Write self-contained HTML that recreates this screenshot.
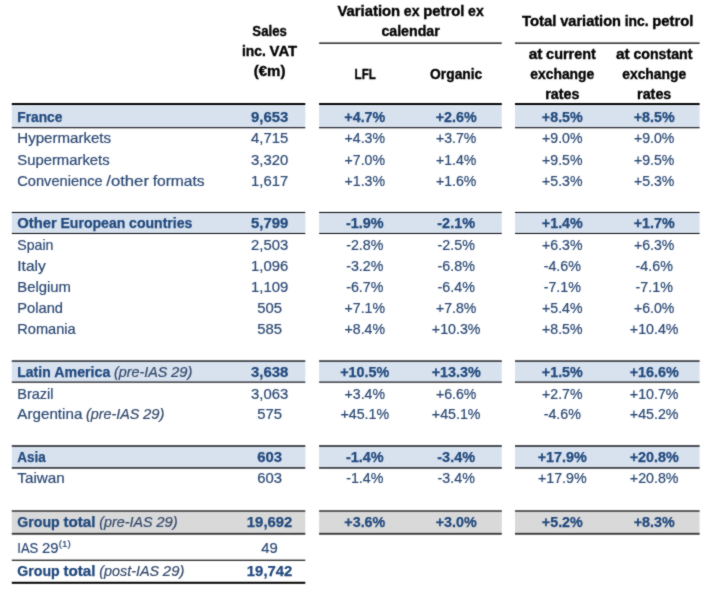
<!DOCTYPE html>
<html><head><meta charset="utf-8"><title>Sales table</title>
<style>
html,body{margin:0;padding:0;background:#fff;}
svg{display:block;font-family:"Liberation Sans",sans-serif;}
</style></head><body>
<svg width="714" height="589" viewBox="0 0 714 589">
<defs><filter id="soft" x="0" y="0" width="714" height="589" filterUnits="userSpaceOnUse" color-interpolation-filters="sRGB"><feConvolveMatrix order="3" kernelMatrix="1 2 1 2 16 2 1 2 1" divisor="28" edgeMode="duplicate" preserveAlpha="false"/></filter></defs>
<rect x="0" y="0" width="714" height="589" fill="#ffffff"/>
<g filter="url(#soft)">
<rect x="11.80" y="103.55" width="293.50" height="24.45" fill="#D8E2EF"/>
<rect x="11.80" y="103.05" width="293.50" height="1.95" fill="#000"/>
<rect x="11.80" y="127.15" width="293.50" height="1.10" fill="#0a0c10"/>
<rect x="319.10" y="103.55" width="182.70" height="24.45" fill="#D8E2EF"/>
<rect x="319.10" y="103.05" width="182.70" height="1.95" fill="#000"/>
<rect x="319.10" y="127.15" width="182.70" height="1.10" fill="#0a0c10"/>
<rect x="515.00" y="103.55" width="184.60" height="24.45" fill="#D8E2EF"/>
<rect x="515.00" y="103.05" width="184.60" height="1.95" fill="#000"/>
<rect x="515.00" y="127.15" width="184.60" height="1.10" fill="#0a0c10"/>
<rect x="11.80" y="212.15" width="293.50" height="21.62" fill="#D8E2EF"/>
<rect x="11.80" y="211.95" width="293.50" height="1.05" fill="#0a0c10"/>
<rect x="11.80" y="232.96" width="293.50" height="1.01" fill="#0a0c10"/>
<rect x="319.10" y="212.15" width="182.70" height="21.62" fill="#D8E2EF"/>
<rect x="319.10" y="211.95" width="182.70" height="1.05" fill="#0a0c10"/>
<rect x="319.10" y="232.96" width="182.70" height="1.01" fill="#0a0c10"/>
<rect x="515.00" y="212.15" width="184.60" height="21.62" fill="#D8E2EF"/>
<rect x="515.00" y="211.95" width="184.60" height="1.05" fill="#0a0c10"/>
<rect x="515.00" y="232.96" width="184.60" height="1.01" fill="#0a0c10"/>
<rect x="11.80" y="360.60" width="293.50" height="21.90" fill="#D8E2EF"/>
<rect x="11.80" y="360.40" width="293.50" height="1.30" fill="#0a0c10"/>
<rect x="11.80" y="381.56" width="293.50" height="1.14" fill="#0a0c10"/>
<rect x="319.10" y="360.60" width="182.70" height="21.90" fill="#D8E2EF"/>
<rect x="319.10" y="360.40" width="182.70" height="1.30" fill="#0a0c10"/>
<rect x="319.10" y="381.56" width="182.70" height="1.14" fill="#0a0c10"/>
<rect x="515.00" y="360.60" width="184.60" height="21.90" fill="#D8E2EF"/>
<rect x="515.00" y="360.40" width="184.60" height="1.30" fill="#0a0c10"/>
<rect x="515.00" y="381.56" width="184.60" height="1.14" fill="#0a0c10"/>
<rect x="11.80" y="445.50" width="293.50" height="22.90" fill="#D8E2EF"/>
<rect x="11.80" y="445.30" width="293.50" height="1.40" fill="#0a0c10"/>
<rect x="11.80" y="467.26" width="293.50" height="1.34" fill="#0a0c10"/>
<rect x="319.10" y="445.50" width="182.70" height="22.90" fill="#D8E2EF"/>
<rect x="319.10" y="445.30" width="182.70" height="1.40" fill="#0a0c10"/>
<rect x="319.10" y="467.26" width="182.70" height="1.34" fill="#0a0c10"/>
<rect x="515.00" y="445.50" width="184.60" height="22.90" fill="#D8E2EF"/>
<rect x="515.00" y="445.30" width="184.60" height="1.40" fill="#0a0c10"/>
<rect x="515.00" y="467.26" width="184.60" height="1.34" fill="#0a0c10"/>
<rect x="11.80" y="510.65" width="293.50" height="23.65" fill="#D9D9D9"/>
<rect x="11.80" y="510.25" width="293.50" height="1.55" fill="#3a3a3a"/>
<rect x="11.80" y="532.90" width="293.50" height="1.80" fill="#333"/>
<rect x="319.10" y="510.65" width="182.70" height="23.65" fill="#D9D9D9"/>
<rect x="319.10" y="510.25" width="182.70" height="1.55" fill="#3a3a3a"/>
<rect x="319.10" y="532.90" width="182.70" height="1.80" fill="#333"/>
<rect x="515.00" y="510.65" width="184.60" height="23.65" fill="#D9D9D9"/>
<rect x="515.00" y="510.25" width="184.60" height="1.55" fill="#3a3a3a"/>
<rect x="515.00" y="532.90" width="184.60" height="1.80" fill="#333"/>
<rect x="11.80" y="559.60" width="293.50" height="1.40" fill="#333"/>
<rect x="11.80" y="581.80" width="293.50" height="2.00" fill="#000"/>
<rect x="319.10" y="42.45" width="182.70" height="1.40" fill="#1a1a1a"/>
<rect x="515.00" y="42.45" width="184.60" height="1.40" fill="#1a1a1a"/>
<text x="17.30" y="121.70" textLength="45.09" lengthAdjust="spacingAndGlyphs" font-size="14.4" fill="#1F477B" font-weight="700" stroke="#1F477B" stroke-width="0.25">France</text>
<text x="250.97" y="121.70" textLength="37.26" lengthAdjust="spacingAndGlyphs" font-size="14.4" fill="#1F477B" font-weight="700" stroke="#1F477B" stroke-width="0.25">9,653</text>
<text x="344.36" y="121.70" textLength="40.88" lengthAdjust="spacingAndGlyphs" font-size="14.4" fill="#1F477B" font-weight="700" stroke="#1F477B" stroke-width="0.25">+4.7%</text>
<text x="435.76" y="121.70" textLength="40.88" lengthAdjust="spacingAndGlyphs" font-size="14.4" fill="#1F477B" font-weight="700" stroke="#1F477B" stroke-width="0.25">+2.6%</text>
<text x="541.86" y="121.70" textLength="40.88" lengthAdjust="spacingAndGlyphs" font-size="14.4" fill="#1F477B" font-weight="700" stroke="#1F477B" stroke-width="0.25">+8.5%</text>
<text x="633.76" y="121.70" textLength="40.88" lengthAdjust="spacingAndGlyphs" font-size="14.4" fill="#1F477B" font-weight="700" stroke="#1F477B" stroke-width="0.25">+8.5%</text>
<text x="17.30" y="143.10" textLength="93.79" lengthAdjust="spacingAndGlyphs" font-size="14.4" fill="#2A4873" stroke="#2A4873" stroke-width="0.2">Hypermarkets</text>
<text x="251.03" y="143.10" textLength="37.13" lengthAdjust="spacingAndGlyphs" font-size="13.9" fill="#2A4873" stroke="#2A4873" stroke-width="0.2">4,715</text>
<text x="344.60" y="143.10" textLength="40.41" lengthAdjust="spacingAndGlyphs" font-size="13.9" fill="#2A4873" stroke="#2A4873" stroke-width="0.2">+4.3%</text>
<text x="436.00" y="143.10" textLength="40.41" lengthAdjust="spacingAndGlyphs" font-size="13.9" fill="#2A4873" stroke="#2A4873" stroke-width="0.2">+3.7%</text>
<text x="542.10" y="143.10" textLength="40.41" lengthAdjust="spacingAndGlyphs" font-size="13.9" fill="#2A4873" stroke="#2A4873" stroke-width="0.2">+9.0%</text>
<text x="634.00" y="143.10" textLength="40.41" lengthAdjust="spacingAndGlyphs" font-size="13.9" fill="#2A4873" stroke="#2A4873" stroke-width="0.2">+9.0%</text>
<text x="17.30" y="164.70" textLength="92.29" lengthAdjust="spacingAndGlyphs" font-size="14.4" fill="#2A4873" stroke="#2A4873" stroke-width="0.2">Supermarkets</text>
<text x="251.03" y="164.70" textLength="37.13" lengthAdjust="spacingAndGlyphs" font-size="13.9" fill="#2A4873" stroke="#2A4873" stroke-width="0.2">3,320</text>
<text x="344.60" y="164.70" textLength="40.41" lengthAdjust="spacingAndGlyphs" font-size="13.9" fill="#2A4873" stroke="#2A4873" stroke-width="0.2">+7.0%</text>
<text x="436.00" y="164.70" textLength="40.41" lengthAdjust="spacingAndGlyphs" font-size="13.9" fill="#2A4873" stroke="#2A4873" stroke-width="0.2">+1.4%</text>
<text x="542.10" y="164.70" textLength="40.41" lengthAdjust="spacingAndGlyphs" font-size="13.9" fill="#2A4873" stroke="#2A4873" stroke-width="0.2">+9.5%</text>
<text x="634.00" y="164.70" textLength="40.41" lengthAdjust="spacingAndGlyphs" font-size="13.9" fill="#2A4873" stroke="#2A4873" stroke-width="0.2">+9.5%</text>
<text y="185.70" font-size="14.4" fill="#2A4873" stroke="#2A4873" stroke-width="0.2"><tspan x="17.30" textLength="85.30" lengthAdjust="spacingAndGlyphs">Convenience</tspan> <tspan x="106.28" textLength="42.71" lengthAdjust="spacingAndGlyphs">/other</tspan> <tspan x="152.67" textLength="51.92" lengthAdjust="spacingAndGlyphs">formats</tspan></text>
<text x="251.03" y="185.70" textLength="37.13" lengthAdjust="spacingAndGlyphs" font-size="13.9" fill="#2A4873" stroke="#2A4873" stroke-width="0.2">1,617</text>
<text x="344.60" y="185.70" textLength="40.41" lengthAdjust="spacingAndGlyphs" font-size="13.9" fill="#2A4873" stroke="#2A4873" stroke-width="0.2">+1.3%</text>
<text x="436.00" y="185.70" textLength="40.41" lengthAdjust="spacingAndGlyphs" font-size="13.9" fill="#2A4873" stroke="#2A4873" stroke-width="0.2">+1.6%</text>
<text x="542.10" y="185.70" textLength="40.41" lengthAdjust="spacingAndGlyphs" font-size="13.9" fill="#2A4873" stroke="#2A4873" stroke-width="0.2">+5.3%</text>
<text x="634.00" y="185.70" textLength="40.41" lengthAdjust="spacingAndGlyphs" font-size="13.9" fill="#2A4873" stroke="#2A4873" stroke-width="0.2">+5.3%</text>
<text y="228.30" font-size="14.4" fill="#1F477B" font-weight="700" stroke="#1F477B" stroke-width="0.25"><tspan x="17.30" textLength="39.41" lengthAdjust="spacingAndGlyphs">Other</tspan> <tspan x="60.40" textLength="65.02" lengthAdjust="spacingAndGlyphs">European</tspan> <tspan x="129.10" textLength="63.24" lengthAdjust="spacingAndGlyphs">countries</tspan></text>
<text x="250.97" y="228.30" textLength="37.26" lengthAdjust="spacingAndGlyphs" font-size="14.4" fill="#1F477B" font-weight="700" stroke="#1F477B" stroke-width="0.25">5,799</text>
<text x="345.92" y="228.30" textLength="37.75" lengthAdjust="spacingAndGlyphs" font-size="14.4" fill="#1F477B" font-weight="700" stroke="#1F477B" stroke-width="0.25">-1.9%</text>
<text x="437.32" y="228.30" textLength="37.75" lengthAdjust="spacingAndGlyphs" font-size="14.4" fill="#1F477B" font-weight="700" stroke="#1F477B" stroke-width="0.25">-2.1%</text>
<text x="541.86" y="228.30" textLength="40.88" lengthAdjust="spacingAndGlyphs" font-size="14.4" fill="#1F477B" font-weight="700" stroke="#1F477B" stroke-width="0.25">+1.4%</text>
<text x="633.76" y="228.30" textLength="40.88" lengthAdjust="spacingAndGlyphs" font-size="14.4" fill="#1F477B" font-weight="700" stroke="#1F477B" stroke-width="0.25">+1.7%</text>
<text x="17.30" y="250.10" textLength="36.14" lengthAdjust="spacingAndGlyphs" font-size="14.4" fill="#2A4873" stroke="#2A4873" stroke-width="0.2">Spain</text>
<text x="251.03" y="250.10" textLength="37.13" lengthAdjust="spacingAndGlyphs" font-size="13.9" fill="#2A4873" stroke="#2A4873" stroke-width="0.2">2,503</text>
<text x="346.16" y="250.10" textLength="37.28" lengthAdjust="spacingAndGlyphs" font-size="13.9" fill="#2A4873" stroke="#2A4873" stroke-width="0.2">-2.8%</text>
<text x="437.56" y="250.10" textLength="37.28" lengthAdjust="spacingAndGlyphs" font-size="13.9" fill="#2A4873" stroke="#2A4873" stroke-width="0.2">-2.5%</text>
<text x="542.10" y="250.10" textLength="40.41" lengthAdjust="spacingAndGlyphs" font-size="13.9" fill="#2A4873" stroke="#2A4873" stroke-width="0.2">+6.3%</text>
<text x="634.00" y="250.10" textLength="40.41" lengthAdjust="spacingAndGlyphs" font-size="13.9" fill="#2A4873" stroke="#2A4873" stroke-width="0.2">+6.3%</text>
<text x="17.30" y="271.20" textLength="28.49" lengthAdjust="spacingAndGlyphs" font-size="14.4" fill="#2A4873" stroke="#2A4873" stroke-width="0.2">Italy</text>
<text x="251.03" y="271.20" textLength="37.13" lengthAdjust="spacingAndGlyphs" font-size="13.9" fill="#2A4873" stroke="#2A4873" stroke-width="0.2">1,096</text>
<text x="346.16" y="271.20" textLength="37.28" lengthAdjust="spacingAndGlyphs" font-size="13.9" fill="#2A4873" stroke="#2A4873" stroke-width="0.2">-3.2%</text>
<text x="437.56" y="271.20" textLength="37.28" lengthAdjust="spacingAndGlyphs" font-size="13.9" fill="#2A4873" stroke="#2A4873" stroke-width="0.2">-6.8%</text>
<text x="543.66" y="271.20" textLength="37.28" lengthAdjust="spacingAndGlyphs" font-size="13.9" fill="#2A4873" stroke="#2A4873" stroke-width="0.2">-4.6%</text>
<text x="635.56" y="271.20" textLength="37.28" lengthAdjust="spacingAndGlyphs" font-size="13.9" fill="#2A4873" stroke="#2A4873" stroke-width="0.2">-4.6%</text>
<text x="17.30" y="291.90" textLength="53.71" lengthAdjust="spacingAndGlyphs" font-size="14.4" fill="#2A4873" stroke="#2A4873" stroke-width="0.2">Belgium</text>
<text x="251.03" y="291.90" textLength="37.13" lengthAdjust="spacingAndGlyphs" font-size="13.9" fill="#2A4873" stroke="#2A4873" stroke-width="0.2">1,109</text>
<text x="346.16" y="291.90" textLength="37.28" lengthAdjust="spacingAndGlyphs" font-size="13.9" fill="#2A4873" stroke="#2A4873" stroke-width="0.2">-6.7%</text>
<text x="437.56" y="291.90" textLength="37.28" lengthAdjust="spacingAndGlyphs" font-size="13.9" fill="#2A4873" stroke="#2A4873" stroke-width="0.2">-6.4%</text>
<text x="543.66" y="291.90" textLength="37.28" lengthAdjust="spacingAndGlyphs" font-size="13.9" fill="#2A4873" stroke="#2A4873" stroke-width="0.2">-7.1%</text>
<text x="635.56" y="291.90" textLength="37.28" lengthAdjust="spacingAndGlyphs" font-size="13.9" fill="#2A4873" stroke="#2A4873" stroke-width="0.2">-7.1%</text>
<text x="17.30" y="312.90" textLength="45.67" lengthAdjust="spacingAndGlyphs" font-size="14.4" fill="#2A4873" stroke="#2A4873" stroke-width="0.2">Poland</text>
<text x="257.20" y="312.90" textLength="24.79" lengthAdjust="spacingAndGlyphs" font-size="13.9" fill="#2A4873" stroke="#2A4873" stroke-width="0.2">505</text>
<text x="344.60" y="312.90" textLength="40.41" lengthAdjust="spacingAndGlyphs" font-size="13.9" fill="#2A4873" stroke="#2A4873" stroke-width="0.2">+7.1%</text>
<text x="436.00" y="312.90" textLength="40.41" lengthAdjust="spacingAndGlyphs" font-size="13.9" fill="#2A4873" stroke="#2A4873" stroke-width="0.2">+7.8%</text>
<text x="542.10" y="312.90" textLength="40.41" lengthAdjust="spacingAndGlyphs" font-size="13.9" fill="#2A4873" stroke="#2A4873" stroke-width="0.2">+5.4%</text>
<text x="634.00" y="312.90" textLength="40.41" lengthAdjust="spacingAndGlyphs" font-size="13.9" fill="#2A4873" stroke="#2A4873" stroke-width="0.2">+6.0%</text>
<text x="17.30" y="334.10" textLength="58.37" lengthAdjust="spacingAndGlyphs" font-size="14.4" fill="#2A4873" stroke="#2A4873" stroke-width="0.2">Romania</text>
<text x="257.20" y="334.10" textLength="24.79" lengthAdjust="spacingAndGlyphs" font-size="13.9" fill="#2A4873" stroke="#2A4873" stroke-width="0.2">585</text>
<text x="344.60" y="334.10" textLength="40.41" lengthAdjust="spacingAndGlyphs" font-size="13.9" fill="#2A4873" stroke="#2A4873" stroke-width="0.2">+8.4%</text>
<text x="431.86" y="334.10" textLength="48.67" lengthAdjust="spacingAndGlyphs" font-size="13.9" fill="#2A4873" stroke="#2A4873" stroke-width="0.2">+10.3%</text>
<text x="542.10" y="334.10" textLength="40.41" lengthAdjust="spacingAndGlyphs" font-size="13.9" fill="#2A4873" stroke="#2A4873" stroke-width="0.2">+8.5%</text>
<text x="629.86" y="334.10" textLength="48.67" lengthAdjust="spacingAndGlyphs" font-size="13.9" fill="#2A4873" stroke="#2A4873" stroke-width="0.2">+10.4%</text>
<text y="376.60" font-size="14.4" fill="#1F477B" font-weight="700" stroke="#1F477B" stroke-width="0.25"><tspan x="17.30" textLength="33.37" lengthAdjust="spacingAndGlyphs">Latin</tspan> <tspan x="54.35" textLength="55.99" lengthAdjust="spacingAndGlyphs">America</tspan></text>
<text y="376.60" font-size="14.4" fill="#34496B" font-style="italic" stroke="#34496B" stroke-width="0.2"><tspan x="114.02" textLength="53.32" lengthAdjust="spacingAndGlyphs">(pre-IAS</tspan> <tspan x="171.03" textLength="21.47" lengthAdjust="spacingAndGlyphs">29)</tspan></text>
<text x="250.97" y="376.60" textLength="37.26" lengthAdjust="spacingAndGlyphs" font-size="14.4" fill="#1F477B" font-weight="700" stroke="#1F477B" stroke-width="0.25">3,638</text>
<text x="340.23" y="376.60" textLength="49.14" lengthAdjust="spacingAndGlyphs" font-size="14.4" fill="#1F477B" font-weight="700" stroke="#1F477B" stroke-width="0.25">+10.5%</text>
<text x="431.63" y="376.60" textLength="49.14" lengthAdjust="spacingAndGlyphs" font-size="14.4" fill="#1F477B" font-weight="700" stroke="#1F477B" stroke-width="0.25">+13.3%</text>
<text x="541.86" y="376.60" textLength="40.88" lengthAdjust="spacingAndGlyphs" font-size="14.4" fill="#1F477B" font-weight="700" stroke="#1F477B" stroke-width="0.25">+1.5%</text>
<text x="629.63" y="376.60" textLength="49.14" lengthAdjust="spacingAndGlyphs" font-size="14.4" fill="#1F477B" font-weight="700" stroke="#1F477B" stroke-width="0.25">+16.6%</text>
<text x="17.30" y="398.50" textLength="36.27" lengthAdjust="spacingAndGlyphs" font-size="14.4" fill="#2A4873" stroke="#2A4873" stroke-width="0.2">Brazil</text>
<text x="251.03" y="398.50" textLength="37.13" lengthAdjust="spacingAndGlyphs" font-size="13.9" fill="#2A4873" stroke="#2A4873" stroke-width="0.2">3,063</text>
<text x="344.60" y="398.50" textLength="40.41" lengthAdjust="spacingAndGlyphs" font-size="13.9" fill="#2A4873" stroke="#2A4873" stroke-width="0.2">+3.4%</text>
<text x="436.00" y="398.50" textLength="40.41" lengthAdjust="spacingAndGlyphs" font-size="13.9" fill="#2A4873" stroke="#2A4873" stroke-width="0.2">+6.6%</text>
<text x="542.10" y="398.50" textLength="40.41" lengthAdjust="spacingAndGlyphs" font-size="13.9" fill="#2A4873" stroke="#2A4873" stroke-width="0.2">+2.7%</text>
<text x="629.86" y="398.50" textLength="48.67" lengthAdjust="spacingAndGlyphs" font-size="13.9" fill="#2A4873" stroke="#2A4873" stroke-width="0.2">+10.7%</text>
<text x="17.30" y="419.40" textLength="65.04" lengthAdjust="spacingAndGlyphs" font-size="14.4" fill="#2A4873" stroke="#2A4873" stroke-width="0.2">Argentina</text>
<text y="419.40" font-size="14.4" fill="#34496B" font-style="italic" stroke="#34496B" stroke-width="0.2"><tspan x="86.02" textLength="53.32" lengthAdjust="spacingAndGlyphs">(pre-IAS</tspan> <tspan x="143.02" textLength="21.47" lengthAdjust="spacingAndGlyphs">29)</tspan></text>
<text x="257.20" y="419.40" textLength="24.79" lengthAdjust="spacingAndGlyphs" font-size="13.9" fill="#2A4873" stroke="#2A4873" stroke-width="0.2">575</text>
<text x="340.46" y="419.40" textLength="48.67" lengthAdjust="spacingAndGlyphs" font-size="13.9" fill="#2A4873" stroke="#2A4873" stroke-width="0.2">+45.1%</text>
<text x="431.86" y="419.40" textLength="48.67" lengthAdjust="spacingAndGlyphs" font-size="13.9" fill="#2A4873" stroke="#2A4873" stroke-width="0.2">+45.1%</text>
<text x="543.66" y="419.40" textLength="37.28" lengthAdjust="spacingAndGlyphs" font-size="13.9" fill="#2A4873" stroke="#2A4873" stroke-width="0.2">-4.6%</text>
<text x="629.86" y="419.40" textLength="48.67" lengthAdjust="spacingAndGlyphs" font-size="13.9" fill="#2A4873" stroke="#2A4873" stroke-width="0.2">+45.2%</text>
<text x="17.30" y="461.90" textLength="28.44" lengthAdjust="spacingAndGlyphs" font-size="14.4" fill="#1F477B" font-weight="700" stroke="#1F477B" stroke-width="0.25">Asia</text>
<text x="257.20" y="461.90" textLength="24.79" lengthAdjust="spacingAndGlyphs" font-size="14.4" fill="#1F477B" font-weight="700" stroke="#1F477B" stroke-width="0.25">603</text>
<text x="345.92" y="461.90" textLength="37.75" lengthAdjust="spacingAndGlyphs" font-size="14.4" fill="#1F477B" font-weight="700" stroke="#1F477B" stroke-width="0.25">-1.4%</text>
<text x="437.32" y="461.90" textLength="37.75" lengthAdjust="spacingAndGlyphs" font-size="14.4" fill="#1F477B" font-weight="700" stroke="#1F477B" stroke-width="0.25">-3.4%</text>
<text x="537.73" y="461.90" textLength="49.14" lengthAdjust="spacingAndGlyphs" font-size="14.4" fill="#1F477B" font-weight="700" stroke="#1F477B" stroke-width="0.25">+17.9%</text>
<text x="629.63" y="461.90" textLength="49.14" lengthAdjust="spacingAndGlyphs" font-size="14.4" fill="#1F477B" font-weight="700" stroke="#1F477B" stroke-width="0.25">+20.8%</text>
<text x="17.30" y="483.40" textLength="47.50" lengthAdjust="spacingAndGlyphs" font-size="14.4" fill="#2A4873" stroke="#2A4873" stroke-width="0.2">Taiwan</text>
<text x="257.20" y="483.40" textLength="24.79" lengthAdjust="spacingAndGlyphs" font-size="13.9" fill="#2A4873" stroke="#2A4873" stroke-width="0.2">603</text>
<text x="346.16" y="483.40" textLength="37.28" lengthAdjust="spacingAndGlyphs" font-size="13.9" fill="#2A4873" stroke="#2A4873" stroke-width="0.2">-1.4%</text>
<text x="437.56" y="483.40" textLength="37.28" lengthAdjust="spacingAndGlyphs" font-size="13.9" fill="#2A4873" stroke="#2A4873" stroke-width="0.2">-3.4%</text>
<text x="537.96" y="483.40" textLength="48.67" lengthAdjust="spacingAndGlyphs" font-size="13.9" fill="#2A4873" stroke="#2A4873" stroke-width="0.2">+17.9%</text>
<text x="629.86" y="483.40" textLength="48.67" lengthAdjust="spacingAndGlyphs" font-size="13.9" fill="#2A4873" stroke="#2A4873" stroke-width="0.2">+20.8%</text>
<text y="527.40" font-size="14.4" fill="#1F477B" font-weight="700" stroke="#1F477B" stroke-width="0.25"><tspan x="17.30" textLength="42.45" lengthAdjust="spacingAndGlyphs">Group</tspan> <tspan x="63.43" textLength="32.14" lengthAdjust="spacingAndGlyphs">total</tspan></text>
<text y="527.40" font-size="14.4" fill="#34496B" font-style="italic" stroke="#34496B" stroke-width="0.2"><tspan x="99.26" textLength="53.32" lengthAdjust="spacingAndGlyphs">(pre-IAS</tspan> <tspan x="156.26" textLength="21.47" lengthAdjust="spacingAndGlyphs">29)</tspan></text>
<text x="246.84" y="527.40" textLength="45.53" lengthAdjust="spacingAndGlyphs" font-size="14.4" fill="#1F477B" font-weight="700" stroke="#1F477B" stroke-width="0.25">19,692</text>
<text x="344.36" y="527.40" textLength="40.88" lengthAdjust="spacingAndGlyphs" font-size="14.4" fill="#1F477B" font-weight="700" stroke="#1F477B" stroke-width="0.25">+3.6%</text>
<text x="435.76" y="527.40" textLength="40.88" lengthAdjust="spacingAndGlyphs" font-size="14.4" fill="#1F477B" font-weight="700" stroke="#1F477B" stroke-width="0.25">+3.0%</text>
<text x="541.86" y="527.40" textLength="40.88" lengthAdjust="spacingAndGlyphs" font-size="14.4" fill="#1F477B" font-weight="700" stroke="#1F477B" stroke-width="0.25">+5.2%</text>
<text x="633.76" y="527.40" textLength="40.88" lengthAdjust="spacingAndGlyphs" font-size="14.4" fill="#1F477B" font-weight="700" stroke="#1F477B" stroke-width="0.25">+8.3%</text>
<text y="552.90" font-size="14.4" fill="#2A4873" stroke="#2A4873" stroke-width="0.2"><tspan x="17.30" textLength="21.03" lengthAdjust="spacingAndGlyphs">IAS</tspan> <tspan x="42.01" textLength="16.53" lengthAdjust="spacingAndGlyphs">29</tspan></text>
<text x="58.84" y="547.00" textLength="12.00" lengthAdjust="spacingAndGlyphs" font-size="9.0" fill="#2A4873" stroke="#2A4873" stroke-width="0.2">(1)</text>
<text x="261.34" y="552.60" textLength="16.53" lengthAdjust="spacingAndGlyphs" font-size="13.9" fill="#2A4873" stroke="#2A4873" stroke-width="0.2">49</text>
<text y="575.90" font-size="14.4" fill="#1F477B" font-weight="700" stroke="#1F477B" stroke-width="0.25"><tspan x="17.30" textLength="42.45" lengthAdjust="spacingAndGlyphs">Group</tspan> <tspan x="63.43" textLength="32.14" lengthAdjust="spacingAndGlyphs">total</tspan></text>
<text y="575.90" font-size="14.4" fill="#34496B" font-style="italic" stroke="#34496B" stroke-width="0.2"><tspan x="99.26" textLength="59.94" lengthAdjust="spacingAndGlyphs">(post-IAS</tspan> <tspan x="162.88" textLength="21.47" lengthAdjust="spacingAndGlyphs">29)</tspan></text>
<text x="246.84" y="575.90" textLength="45.53" lengthAdjust="spacingAndGlyphs" font-size="14.4" fill="#1F477B" font-weight="700" stroke="#1F477B" stroke-width="0.25">19,742</text>
<text x="252.36" y="35.80" textLength="34.47" lengthAdjust="spacingAndGlyphs" font-size="14.4" fill="#000000" font-weight="700" stroke="#000000" stroke-width="0.35">Sales</text>
<text y="55.90" font-size="14.4" fill="#000000" font-weight="700" stroke="#000000" stroke-width="0.35"><tspan x="242.00" textLength="23.93" lengthAdjust="spacingAndGlyphs">inc.</tspan> <tspan x="269.62" textLength="27.58" lengthAdjust="spacingAndGlyphs">VAT</tspan></text>
<text x="253.76" y="76.00" textLength="31.69" lengthAdjust="spacingAndGlyphs" font-size="14.4" fill="#000000" font-weight="700" stroke="#000000" stroke-width="0.35">(€m)</text>
<text y="15.70" font-size="14.4" fill="#000000" font-weight="700" stroke="#000000" stroke-width="0.35"><tspan x="337.45" textLength="62.72" lengthAdjust="spacingAndGlyphs">Variation</tspan> <tspan x="403.85" textLength="15.68" lengthAdjust="spacingAndGlyphs">ex</tspan> <tspan x="423.22" textLength="41.17" lengthAdjust="spacingAndGlyphs">petrol</tspan> <tspan x="468.07" textLength="15.68" lengthAdjust="spacingAndGlyphs">ex</tspan></text>
<text x="381.39" y="35.70" textLength="58.42" lengthAdjust="spacingAndGlyphs" font-size="14.4" fill="#000000" font-weight="700" stroke="#000000" stroke-width="0.35">calendar</text>
<text x="354.56" y="78.80" textLength="21.27" lengthAdjust="spacingAndGlyphs" font-size="14.4" fill="#000000" font-weight="700" stroke="#000000" stroke-width="0.35">LFL</text>
<text x="430.12" y="78.80" textLength="52.16" lengthAdjust="spacingAndGlyphs" font-size="14.4" fill="#000000" font-weight="700" stroke="#000000" stroke-width="0.35">Organic</text>
<text y="25.80" font-size="14.4" fill="#000000" font-weight="700" stroke="#000000" stroke-width="0.35"><tspan x="521.95" textLength="34.56" lengthAdjust="spacingAndGlyphs">Total</tspan> <tspan x="560.19" textLength="60.80" lengthAdjust="spacingAndGlyphs">variation</tspan> <tspan x="624.67" textLength="23.93" lengthAdjust="spacingAndGlyphs">inc.</tspan> <tspan x="652.28" textLength="41.17" lengthAdjust="spacingAndGlyphs">petrol</tspan></text>
<text y="58.90" font-size="14.4" fill="#000000" font-weight="700" stroke="#000000" stroke-width="0.35"><tspan x="528.73" textLength="13.71" lengthAdjust="spacingAndGlyphs">at</tspan> <tspan x="546.12" textLength="49.75" lengthAdjust="spacingAndGlyphs">current</tspan></text>
<text x="530.31" y="78.90" textLength="63.98" lengthAdjust="spacingAndGlyphs" font-size="14.4" fill="#000000" font-weight="700" stroke="#000000" stroke-width="0.35">exchange</text>
<text x="545.20" y="98.80" textLength="34.20" lengthAdjust="spacingAndGlyphs" font-size="14.4" fill="#000000" font-weight="700" stroke="#000000" stroke-width="0.35">rates</text>
<text y="58.90" font-size="14.4" fill="#000000" font-weight="700" stroke="#000000" stroke-width="0.35"><tspan x="616.03" textLength="13.71" lengthAdjust="spacingAndGlyphs">at</tspan> <tspan x="633.42" textLength="58.96" lengthAdjust="spacingAndGlyphs">constant</tspan></text>
<text x="622.21" y="78.90" textLength="63.98" lengthAdjust="spacingAndGlyphs" font-size="14.4" fill="#000000" font-weight="700" stroke="#000000" stroke-width="0.35">exchange</text>
<text x="637.10" y="98.80" textLength="34.20" lengthAdjust="spacingAndGlyphs" font-size="14.4" fill="#000000" font-weight="700" stroke="#000000" stroke-width="0.35">rates</text>
</g>
</svg>
</body></html>
